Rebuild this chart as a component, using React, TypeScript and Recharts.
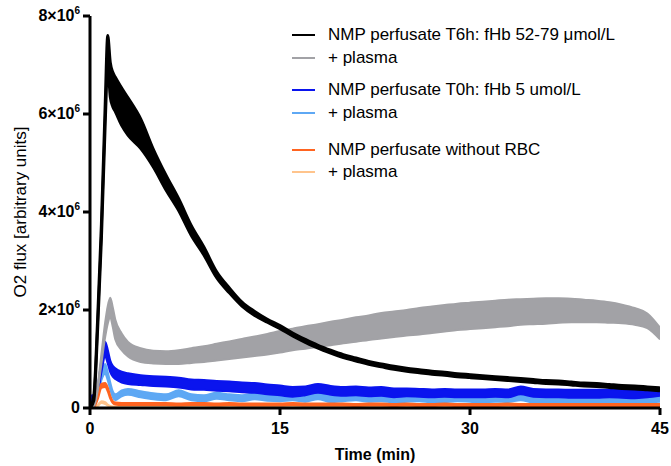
import React from "react";
import { ComposedChart, Area, XAxis, YAxis } from "recharts";

// time (min)
const time = [0, 0.3, 0.6, 0.9, 1.2, 1.4, 1.6, 1.8, 2, 2.5, 3, 4, 5, 6, 7, 8, 9, 10, 11, 12, 13, 14, 15, 16, 17, 18, 19, 20, 21, 22, 23, 24, 25, 26, 27, 28, 29, 30, 31, 32, 33, 34, 35, 36, 37, 38, 39, 40, 41, 42, 43, 44, 45];

// values in 10^6 arbitrary units
const t6hMean = [0, 0.2, 1.7, 3.6, 6.0, 7.3, 6.7, 6.5, 6.4, 6.15, 5.95, 5.6, 5.1, 4.6, 4.15, 3.62, 3.2, 2.72, 2.4, 2.12, 1.93, 1.78, 1.65, 1.5, 1.37, 1.25, 1.15, 1.06, 0.99, 0.92, 0.87, 0.82, 0.78, 0.75, 0.72, 0.7, 0.67, 0.65, 0.63, 0.61, 0.59, 0.57, 0.55, 0.53, 0.52, 0.5, 0.48, 0.47, 0.45, 0.43, 0.42, 0.4, 0.38];
const t6hSd = [0, 0.05, 0.1, 0.15, 0.2, 0.3, 0.35, 0.35, 0.35, 0.38, 0.38, 0.3, 0.18, 0.15, 0.12, 0.1, 0.08, 0.06, 0.05, 0.04, 0.04, 0.03, 0.03, 0.03, 0.03, 0.03, 0.03, 0.03, 0.03, 0.03, 0.03, 0.03, 0.03, 0.03, 0.03, 0.03, 0.03, 0.03, 0.03, 0.03, 0.03, 0.03, 0.03, 0.03, 0.03, 0.03, 0.03, 0.03, 0.03, 0.03, 0.03, 0.03, 0.03];

const t6hPlasmaMean = [0, 0.05, 0.4, 1.0, 1.6, 1.9, 2.05, 1.85, 1.6, 1.35, 1.2, 1.08, 1.04, 1.03, 1.04, 1.07, 1.1, 1.14, 1.18, 1.22, 1.26, 1.3, 1.35, 1.4, 1.44, 1.48, 1.52, 1.56, 1.6, 1.64, 1.68, 1.71, 1.74, 1.77, 1.8, 1.83, 1.86, 1.88, 1.9, 1.92, 1.94, 1.96, 1.97, 1.98, 1.99, 1.99, 1.98, 1.97, 1.95, 1.92, 1.87, 1.78, 1.52];
const t6hPlasmaSd = [0, 0.02, 0.06, 0.1, 0.15, 0.18, 0.2, 0.2, 0.2, 0.17, 0.15, 0.14, 0.13, 0.13, 0.14, 0.15, 0.16, 0.17, 0.18, 0.19, 0.2, 0.21, 0.22, 0.22, 0.23, 0.23, 0.24, 0.24, 0.25, 0.25, 0.26, 0.26, 0.26, 0.27, 0.27, 0.27, 0.27, 0.27, 0.27, 0.27, 0.27, 0.26, 0.26, 0.26, 0.25, 0.24, 0.23, 0.22, 0.21, 0.19, 0.17, 0.15, 0.12];

const t0hMean = [0.2, 0.22, 0.35, 0.85, 1.2, 1.05, 0.85, 0.75, 0.7, 0.63, 0.6, 0.57, 0.55, 0.54, 0.52, 0.48, 0.47, 0.45, 0.44, 0.42, 0.41, 0.38, 0.36, 0.33, 0.35, 0.4, 0.36, 0.34, 0.35, 0.33, 0.34, 0.31, 0.32, 0.31, 0.3, 0.31, 0.3, 0.3, 0.3, 0.31, 0.3, 0.36, 0.31, 0.3, 0.3, 0.29, 0.29, 0.29, 0.3, 0.29, 0.28, 0.3, 0.33];
const t0hSd = [0.05, 0.05, 0.08, 0.12, 0.15, 0.14, 0.12, 0.11, 0.11, 0.11, 0.11, 0.1, 0.1, 0.1, 0.1, 0.1, 0.1, 0.1, 0.1, 0.1, 0.1, 0.1, 0.1, 0.1, 0.09, 0.09, 0.09, 0.09, 0.09, 0.09, 0.09, 0.09, 0.08, 0.08, 0.08, 0.08, 0.08, 0.08, 0.08, 0.08, 0.08, 0.08, 0.08, 0.08, 0.08, 0.08, 0.08, 0.08, 0.08, 0.08, 0.08, 0.08, 0.08];

const t0hPlasmaMean = [0.15, 0.18, 0.3, 0.65, 0.8, 0.65, 0.45, 0.28, 0.22, 0.3, 0.33, 0.28, 0.24, 0.22, 0.3, 0.22, 0.2, 0.25, 0.22, 0.2, 0.24, 0.21, 0.2, 0.22, 0.19, 0.24, 0.18, 0.2, 0.22, 0.19, 0.2, 0.17, 0.19, 0.2, 0.17, 0.18, 0.2, 0.19, 0.17, 0.19, 0.18, 0.22, 0.17, 0.18, 0.16, 0.18, 0.17, 0.16, 0.18, 0.17, 0.14, 0.17, 0.19];
const t0hPlasmaSd = [0.04, 0.04, 0.06, 0.08, 0.1, 0.08, 0.07, 0.06, 0.06, 0.06, 0.06, 0.06, 0.06, 0.06, 0.06, 0.06, 0.06, 0.06, 0.06, 0.06, 0.06, 0.06, 0.06, 0.06, 0.06, 0.06, 0.06, 0.06, 0.06, 0.06, 0.06, 0.06, 0.06, 0.06, 0.06, 0.06, 0.06, 0.06, 0.06, 0.06, 0.06, 0.06, 0.06, 0.06, 0.06, 0.06, 0.06, 0.06, 0.06, 0.06, 0.06, 0.06, 0.06];

const noRbcMean = [0, 0.02, 0.2, 0.45, 0.47, 0.38, 0.22, 0.12, 0.09, 0.08, 0.08, 0.08, 0.08, 0.08, 0.07, 0.08, 0.08, 0.07, 0.08, 0.07, 0.07, 0.07, 0.07, 0.08, 0.07, 0.07, 0.07, 0.07, 0.06, 0.07, 0.07, 0.06, 0.07, 0.06, 0.06, 0.07, 0.06, 0.06, 0.06, 0.06, 0.07, 0.06, 0.06, 0.06, 0.06, 0.06, 0.06, 0.06, 0.06, 0.06, 0.06, 0.06, 0.06];
const noRbcSd = [0, 0.01, 0.03, 0.04, 0.04, 0.04, 0.03, 0.02, 0.02, 0.02, 0.02, 0.02, 0.02, 0.02, 0.02, 0.02, 0.02, 0.02, 0.02, 0.02, 0.02, 0.02, 0.02, 0.02, 0.02, 0.02, 0.02, 0.02, 0.02, 0.02, 0.02, 0.02, 0.02, 0.02, 0.02, 0.02, 0.02, 0.02, 0.02, 0.02, 0.02, 0.02, 0.02, 0.02, 0.02, 0.02, 0.02, 0.02, 0.02, 0.02, 0.02, 0.02, 0.02];

const noRbcPlasmaMean = [0, 0, 0.05, 0.12, 0.1, 0.06, 0.03, 0.02, 0.02, 0.02, 0.02, 0.02, 0.02, 0.02, 0.02, 0.02, 0.02, 0.02, 0.02, 0.02, 0.02, 0.02, 0.02, 0.02, 0.02, 0.02, 0.02, 0.02, 0.02, 0.02, 0.02, 0.02, 0.02, 0.02, 0.02, 0.02, 0.02, 0.02, 0.02, 0.02, 0.02, 0.02, 0.02, 0.02, 0.02, 0.02, 0.02, 0.02, 0.02, 0.02, 0.02, 0.02, 0.02];
const noRbcPlasmaSd = [0, 0, 0.01, 0.02, 0.02, 0.01, 0.01, 0.01, 0.01, 0.01, 0.01, 0.01, 0.01, 0.01, 0.01, 0.01, 0.01, 0.01, 0.01, 0.01, 0.01, 0.01, 0.01, 0.01, 0.01, 0.01, 0.01, 0.01, 0.01, 0.01, 0.01, 0.01, 0.01, 0.01, 0.01, 0.01, 0.01, 0.01, 0.01, 0.01, 0.01, 0.01, 0.01, 0.01, 0.01, 0.01, 0.01, 0.01, 0.01, 0.01, 0.01, 0.01, 0.01];

const xTicks = [0, 15, 30, 45];
const yTicks = [0, 2, 4, 6, 8];

const seriesNames = [
  "NMP perfusate T6h: fHb 52-79 μmol/L",
  "+ plasma",
  "NMP perfusate T0h: fHb 5 umol/L",
  "+ plasma",
  "NMP perfusate without RBC",
  "+ plasma",
];
const colors = ["#000000", "#a2a2a6", "#0a14ee", "#5ea8f4", "#ff6420", "#ffc48c"];

function band(mean: number[], sd: number[]) {
  return time.map((t, i) => ({ t, r: [Math.max(0, mean[i] - sd[i]), mean[i] + sd[i]] }));
}

const bands = [
  { key: "t6h", data: band(t6hMean, t6hSd), color: colors[0], sw: 3, curve: "monotone" },
  { key: "t6hP", data: band(t6hPlasmaMean, t6hPlasmaSd), color: colors[1], sw: 2, curve: "monotone" },
  { key: "t0h", data: band(t0hMean, t0hSd), color: colors[2], sw: 2, curve: "monotone" },
  { key: "t0hP", data: band(t0hPlasmaMean, t0hPlasmaSd), color: colors[3], sw: 2, curve: "monotone" },
  { key: "noRbc", data: band(noRbcMean, noRbcSd), color: colors[4], sw: 2, curve: "monotone" },
  { key: "noRbcP", data: band(noRbcPlasmaMean, noRbcPlasmaSd), color: colors[5], sw: 2, curve: "monotone" },
];
const drawOrder = ["noRbcP", "t0hP", "t0h", "noRbc", "t6hP", "t6h"];

const FONT = "'Liberation Sans', Arial, Helvetica, sans-serif";

const YTick = (props: any) => {
  const { x, y, payload } = props;
  const v = payload.value;
  return (
    <text x={x - 1} y={y} dy={5} textAnchor="end" fontFamily={FONT} fontWeight="bold" fontSize={16} fill="#000">
      {v === 0 ? (
        "0"
      ) : (
        <>
          {`${v}×10`}
          <tspan fontSize={10} dy={-7}>6</tspan>
        </>
      )}
    </text>
  );
};

const XTick = (props: any) => {
  const { x, y, payload } = props;
  return (
    <text x={x} y={y} dy={17} textAnchor="middle" fontFamily={FONT} fontWeight="bold" fontSize={16} fill="#000">
      {payload.value}
    </text>
  );
};

const legendRows = [35, 58, 90, 113, 150, 172];

export default function App() {
  return (
    <div style={{ position: "absolute", left: 0, top: 0, width: 671, height: 466, background: "#fff" }}>
      <ComposedChart width={671} height={466} margin={{ top: 16, right: 11, left: 0, bottom: 0 }}>
        <XAxis
          type="number"
          dataKey="t"
          domain={[0, 45]}
          ticks={xTicks}
          allowDataOverflow
          stroke="#000"
          strokeWidth={3}
          tickSize={7}
          tick={<XTick />}
          height={58}
          label={{ value: "Time (min)", position: "insideBottom", offset: 6, fontFamily: FONT, fontWeight: "bold", fontSize: 16, fill: "#000" }}
        />
        <YAxis
          type="number"
          domain={[0, 8]}
          ticks={yTicks}
          allowDataOverflow
          stroke="#000"
          strokeWidth={3}
          tickSize={7}
          width={90}
          tick={<YTick />}
          label={{ value: "O2 flux [arbitrary units]", angle: -90, position: "insideLeft", offset: 20, fontFamily: FONT, fontSize: 17, fill: "#000", style: { textAnchor: "middle" } }}
        />
        {drawOrder.map((k) => {
          const b = bands.find((s) => s.key === k)!;
          return (
            <Area
              key={k}
              data={b.data}
              dataKey="r"
              type={b.curve as any}
              fill={b.color}
              fillOpacity={1}
              stroke={b.color}
              strokeWidth={b.sw}
              dot={false}
              activeDot={false}
              isAnimationActive={false}
            />
          );
        })}
      </ComposedChart>
      <div style={{ position: "absolute", left: 0, top: 0, width: 671, height: 466, pointerEvents: "none", fontFamily: FONT, fontSize: 17, color: "#000" }}>
        {seriesNames.map((name, i) => (
          <div key={i} style={{ position: "absolute", left: 292, top: legendRows[i] - 11, height: 22, display: "flex", alignItems: "center", whiteSpace: "nowrap" }}>
            <span style={{ display: "inline-block", width: 23, height: 2, background: colors[i], marginRight: 13 }} />
            <span>{name}</span>
          </div>
        ))}
      </div>
    </div>
  );
}
